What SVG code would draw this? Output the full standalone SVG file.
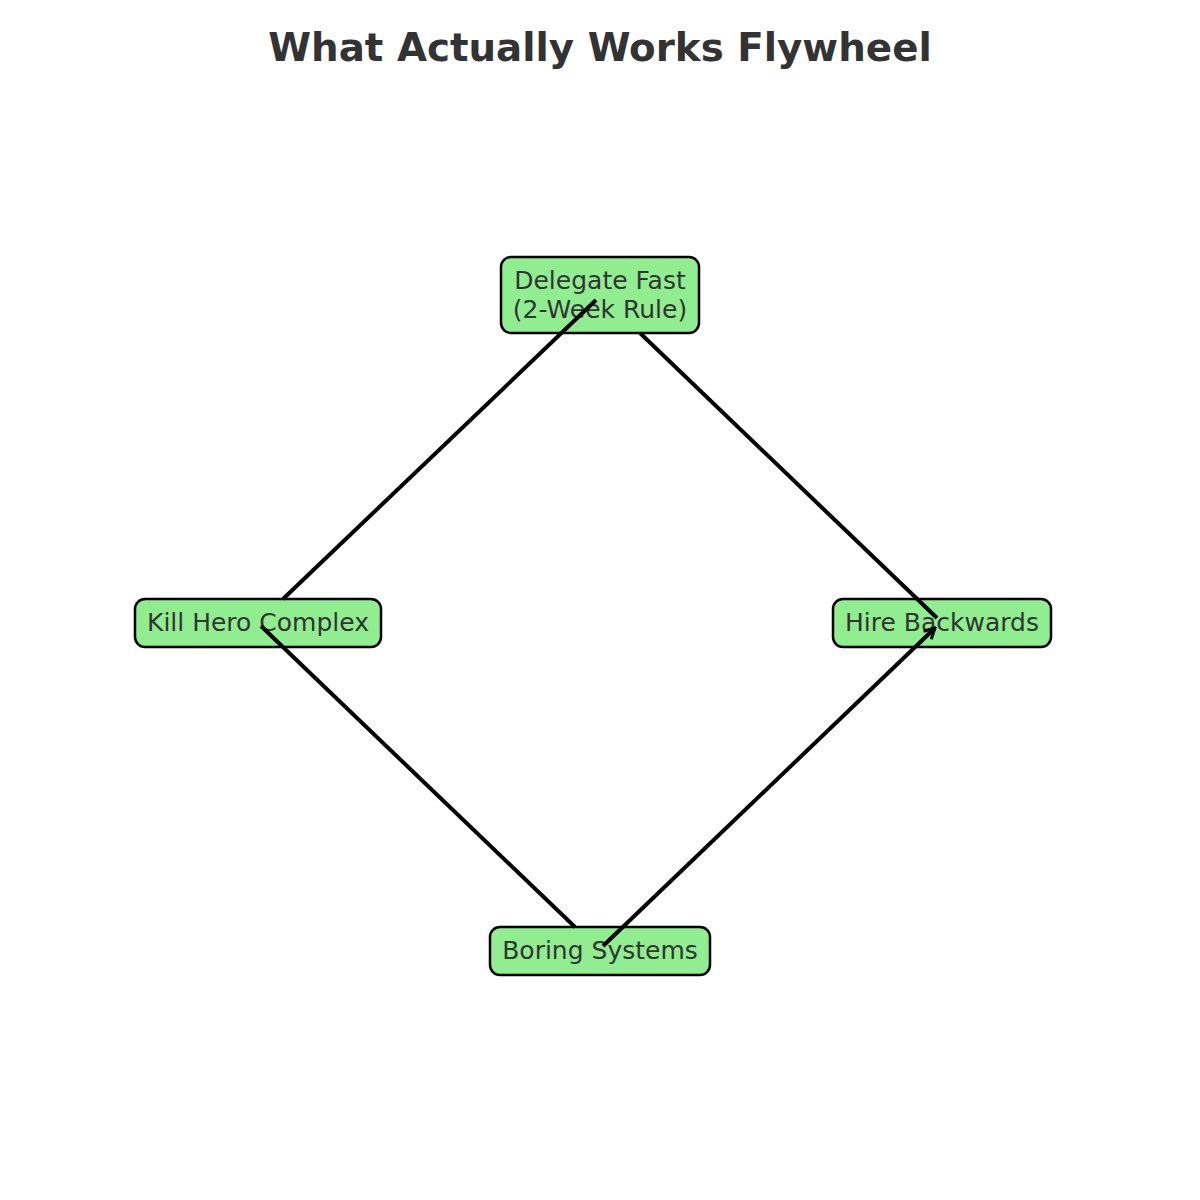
<svg xmlns="http://www.w3.org/2000/svg" width="1200" height="1200" viewBox="0 0 1200 1200">
<style>
.box{fill:#90EE90;stroke:#000;stroke-width:2.5}
.lbl{font-family:"DejaVu Sans",sans-serif;font-size:25px;fill:#333;text-anchor:middle}
.title{font-family:"DejaVu Sans",sans-serif;font-size:38.8px;font-weight:bold;fill:#333;text-anchor:middle}
.edge{stroke:#000;stroke-width:4;fill:none;stroke-linecap:butt}
</style>
<defs>
<marker id="ah" viewBox="0 0 14 14" refX="12" refY="7" markerWidth="14" markerHeight="14" markerUnits="userSpaceOnUse" orient="auto">
<path d="M1.5,1.5 L12,7 L1.5,12.5" fill="none" stroke="#000" stroke-width="3"/>
</marker>
</defs>
<rect width="1200" height="1200" fill="#fff"/>
<text class="title" x="600" y="61">What Actually Works Flywheel</text>
<g id="node-delegate">
<rect class="box" x="501" y="257" width="198" height="76" rx="10"/>
<text class="lbl" x="600" y="289">Delegate Fast</text>
<text class="lbl" x="600" y="318">(2-Week Rule)</text>
</g>
<g id="node-kill">
<rect class="box" x="135" y="599" width="246" height="48" rx="10"/>
<text class="lbl" x="258" y="631">Kill Hero Complex</text>
</g>
<g id="node-hire">
<rect class="box" x="833" y="599" width="218" height="48" rx="10"/>
<text class="lbl" x="942" y="631">Hire Backwards</text>
</g>
<g id="node-boring">
<rect class="box" x="490" y="927" width="220" height="48" rx="10"/>
<text class="lbl" x="600" y="959">Boring Systems</text>
</g>
<g id="connectors">
<line class="edge" x1="283" y1="599" x2="596" y2="300"/>
<line class="edge" x1="640" y1="333" x2="937" y2="618"/>
<line class="edge" x1="603" y1="946" x2="935" y2="628" marker-end="url(#ah)"/>
<line class="edge" x1="575" y1="927" x2="261" y2="626"/>
</g>
</svg>
